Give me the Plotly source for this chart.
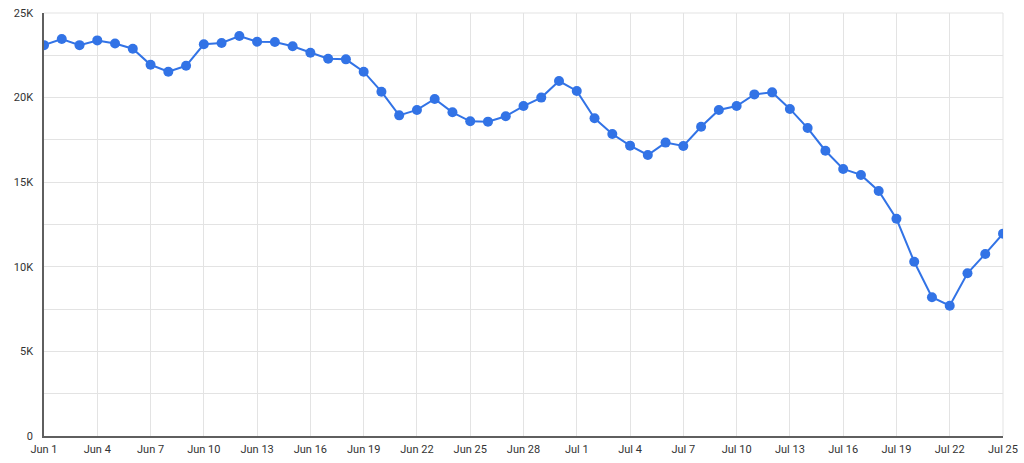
import plotly.graph_objects as go
import pandas as pd

dates = pd.date_range("2020-06-01", "2020-07-25", freq="D")
values_k = [
    23.1, 23.46, 23.1, 23.38, 23.2, 22.89, 21.94, 21.53, 21.88, 23.15,
    23.23, 23.64, 23.3, 23.29, 23.03, 22.65, 22.3, 22.26, 21.53, 20.35,
    18.95, 19.27, 19.92, 19.13, 18.6, 18.58, 18.9, 19.5, 20.0, 20.98,
    20.39, 18.78, 17.85, 17.16, 16.61, 17.34, 17.14, 18.28, 19.27, 19.5,
    20.19, 20.31, 19.33, 18.2, 16.86, 15.78, 15.43, 14.48, 12.84, 10.3,
    8.2, 7.7, 9.62, 10.76, 11.96,
]
values = [v * 1000 for v in values_k]

y_tick_vals = [0, 5000, 10000, 15000, 20000, 25000]
y_tick_text = ["0", "5K", "10K", "15K", "20K", "25K"]

blue = "#3273e6"
grid = "#e3e3e3"

fig = go.Figure()
fig.add_trace(go.Scatter(
    x=dates, y=values, mode="lines+markers",
    line=dict(color=blue, width=2),
    marker=dict(color=blue, size=10),
    hoverinfo="x+y",
))

fig.update_layout(
    width=1024, height=463,
    margin=dict(l=44, r=21, t=13, b=27, autoexpand=False),
    paper_bgcolor="white", plot_bgcolor="white",
    showlegend=False,
    font=dict(family="Roboto", size=11, color="#333333"),
)
fig.update_xaxes(
    type="date",
    range=[dates[0], dates[-1]],
    tick0=dates[0], dtick=3 * 86400000,
    tickformat="%b %-d",
    showgrid=True, gridcolor=grid, gridwidth=1,
    showline=True, linecolor="#5f5f5f", linewidth=1.5,
    ticks="", ticklen=0, ticklabelstandoff=2,
    zeroline=False, automargin=False,
)
fig.update_yaxes(
    range=[0, 25000],
    tickvals=y_tick_vals, ticktext=y_tick_text,
    showgrid=True, gridcolor=grid, gridwidth=1,
    minor=dict(dtick=2500, tick0=0, showgrid=True, gridcolor=grid, gridwidth=1, ticks=""),
    showline=True, linecolor="#5f5f5f", linewidth=1.5,
    ticks="", ticklen=0, ticklabelstandoff=7,
    zeroline=False, automargin=False,
)
fig.add_shape(type="line", xref="paper", yref="paper", x0=1, x1=1, y0=0, y1=1,
              line=dict(color=grid, width=1), layer="below")
fig.add_shape(type="line", xref="paper", yref="paper", x0=0, x1=1, y0=1, y1=1,
              line=dict(color=grid, width=1), layer="below")

fig.write_html(
    "out.html",
    config={"displayModeBar": False},
    post_script="document.body.style.margin='0';document.body.style.padding='0';document.body.style.overflow='hidden';",
)
